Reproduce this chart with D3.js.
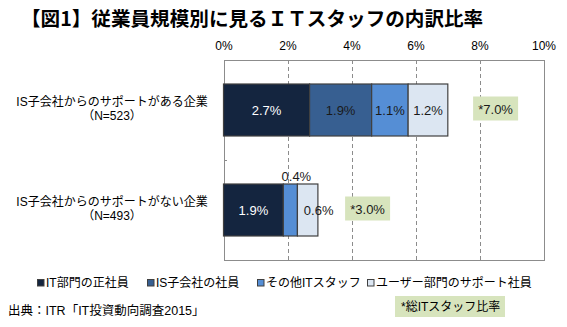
<!DOCTYPE html>
<html><head><meta charset="utf-8">
<script src="https://cdn.jsdelivr.net/npm/d3@7"></script>
<style>
body{margin:0;background:#fff;}
svg{display:block;font-family:"Liberation Sans",Arial,"Noto Sans CJK JP",sans-serif;}
</style></head>
<body>
<script>
const title = "【図1】従業員規模別に見るＩＴスタッフの内訳比率";
const categories = [["IS子会社からのサポートがある企業","（N=523）"],["IS子会社からのサポートがない企業","（N=493）"]];
const seriesNames = ["IT部門の正社員","IS子会社の社員","その他ITスタッフ","ユーザー部門のサポート社員"];
const itDept = [2.69, 1.87];
const isSub = [1.94, 0];
const otherIT = [1.14, 0.44];
const userDept = [1.24, 0.64];
const totals = [7.0, 3.0];
const ticks = [0, 2, 4, 6, 8, 10];
const noteText = "*総ITスタッフ比率";
const sourceText = "出典：ITR「IT投資動向調査2015」";

const colors = ["#14253f", "#375f91", "#558ed5", "#dce6f2"];
const textColors = ["#ffffff", "#1a1a1a", "#1a1a1a", "#1a1a1a"];

const W = 567, H = 327;
const svg = d3.select("body").append("svg").attr("width", W).attr("height", H);

svg.append("text").attr("x", 21).attr("y", 26).attr("font-size", 19.6).attr("font-weight", "bold")
  .attr("font-family", "'Noto Sans CJK JP',sans-serif").attr("fill", "#000").text(title);

const x = d3.scaleLinear().domain([0, 10]).range([223.5, 543.5]);
const y = d3.scaleBand().domain(d3.range(categories.length)).range([60, 260]).paddingInner(0.48).paddingOuter(0.24);
const band = y.step();

// gridlines
svg.append("g").selectAll("line").data(ticks.filter(t => t > 0 && t < 10)).join("line")
  .attr("x1", d => Math.round(x(d)) + 0.5).attr("x2", d => Math.round(x(d)) + 0.5)
  .attr("y1", 60).attr("y2", 260).attr("stroke", "#8c8c8c").attr("stroke-dasharray", "4,3");

// plot border
svg.append("rect").attr("x", Math.round(x(0)) + 0.5).attr("y", 60.5)
  .attr("width", Math.round(x(10)) - Math.round(x(0))).attr("height", 200)
  .attr("fill", "none").attr("stroke", "#8c8c8c");

// category ticks
svg.append("g").selectAll("line").data(d3.range(categories.length + 1)).join("line")
  .attr("x1", Math.round(x(0))).attr("x2", Math.round(x(0)) + 3)
  .attr("y1", d => Math.round(60 + d * band) + 0.5).attr("y2", d => Math.round(60 + d * band) + 0.5)
  .attr("stroke", "#8c8c8c");

// top axis labels
const axis = d3.axisTop(x).tickValues(ticks).tickFormat(d => d + "%").tickSize(0).tickPadding(0);
const ag = svg.append("g").attr("transform", "translate(0,50)").call(axis);
ag.select(".domain").remove();
ag.selectAll("text").attr("font-size", 12).attr("fill", "#000").attr("font-family", "'Liberation Sans',Arial,sans-serif");

// stacked data
const series = [itDept, isSub, otherIT, userDept];
const rows = categories.map((c, i) => {
  let acc = 0;
  return series.map((s, k) => { const d = {i, k, x0: acc, v: s[i]}; acc += s[i]; d.x1 = acc; return d; });
});

const bars = svg.append("g");
rows.forEach(r => {
  bars.selectAll(null).data(r.filter(d => d.v > 0)).join("rect")
    .attr("x", d => x(d.x0)).attr("y", d => y(d.i))
    .attr("width", d => x(d.x1) - x(d.x0)).attr("height", y.bandwidth())
    .attr("fill", d => colors[d.k]).attr("stroke", "#404040").attr("stroke-width", 1.2);
});

// segment labels
rows.forEach((r, i) => {
  r.filter(d => d.v > 0).forEach(d => {
    const w = x(d.x1) - x(d.x0);
    let lx = (x(d.x0) + x(d.x1)) / 2, ly = y(d.i) + y.bandwidth() / 2 + 5;
    if (w < 18) { lx += 6; ly = y(d.i) - 3; }
    else if (w < 26) { lx += 11; }
    svg.append("text").attr("x", lx).attr("y", ly).attr("text-anchor", "middle")
      .attr("font-size", 13).attr("fill", w < 18 ? "#1a1a1a" : textColors[d.k]).text(d.v.toFixed(1) + "%");
  });
});

// total boxes
totals.forEach((t, i) => {
  const bx = x(t + 0.8);
  const cy = y(i) + y.bandwidth() / 2 - 1.5;
  svg.append("rect").attr("x", bx).attr("y", cy - 12).attr("width", 45).attr("height", 24).attr("fill", "#d7e4bd");
  svg.append("text").attr("x", bx + 22.5).attr("y", cy + 5).attr("text-anchor", "middle")
    .attr("font-size", 13).attr("fill", "#1a1a1a").text("*" + t.toFixed(1) + "%");
});

// category labels
categories.forEach((c, i) => {
  const cy = y(i) + y.bandwidth() / 2;
  c.forEach((line, j) => {
    svg.append("text").attr("text-anchor", "middle").attr("font-size", 12).attr("fill", "#000")
      .attr("font-family", "'Liberation Sans','Noto Sans CJK JP',sans-serif")
      .attr("x", 112).attr("y", cy - 4 + j * 14).text(line);
  });
});

// legend
const legendX = [37, 147, 257, 367];
seriesNames.forEach((n, k) => {
  const g = svg.append("g").attr("transform", `translate(${legendX[k]},279)`);
  g.append("rect").attr("x", 0.5).attr("y", 0.5).attr("width", 6.5).attr("height", 6.5)
    .attr("fill", colors[k]).attr("stroke", "#404040");
  g.append("text").attr("x", 9).attr("y", 8).attr("font-size", 12).attr("fill", "#000")
    .attr("font-family", "'Liberation Sans','Noto Sans CJK JP',sans-serif").text(n);
});

// note box
svg.append("rect").attr("x", 395).attr("y", 296).attr("width", 110).attr("height", 21).attr("fill", "#d7e4bd");
svg.append("text").attr("x", 401).attr("y", 310.5).attr("font-size", 12).attr("fill", "#000")
  .attr("font-family", "'Liberation Sans','Noto Sans CJK JP',sans-serif").text(noteText);

// source
svg.append("text").attr("x", 8).attr("y", 315).attr("font-size", 12.5).attr("fill", "#000")
  .attr("font-family", "'Liberation Sans','Noto Sans CJK JP',sans-serif").text(sourceText);
</script>
</body></html>
